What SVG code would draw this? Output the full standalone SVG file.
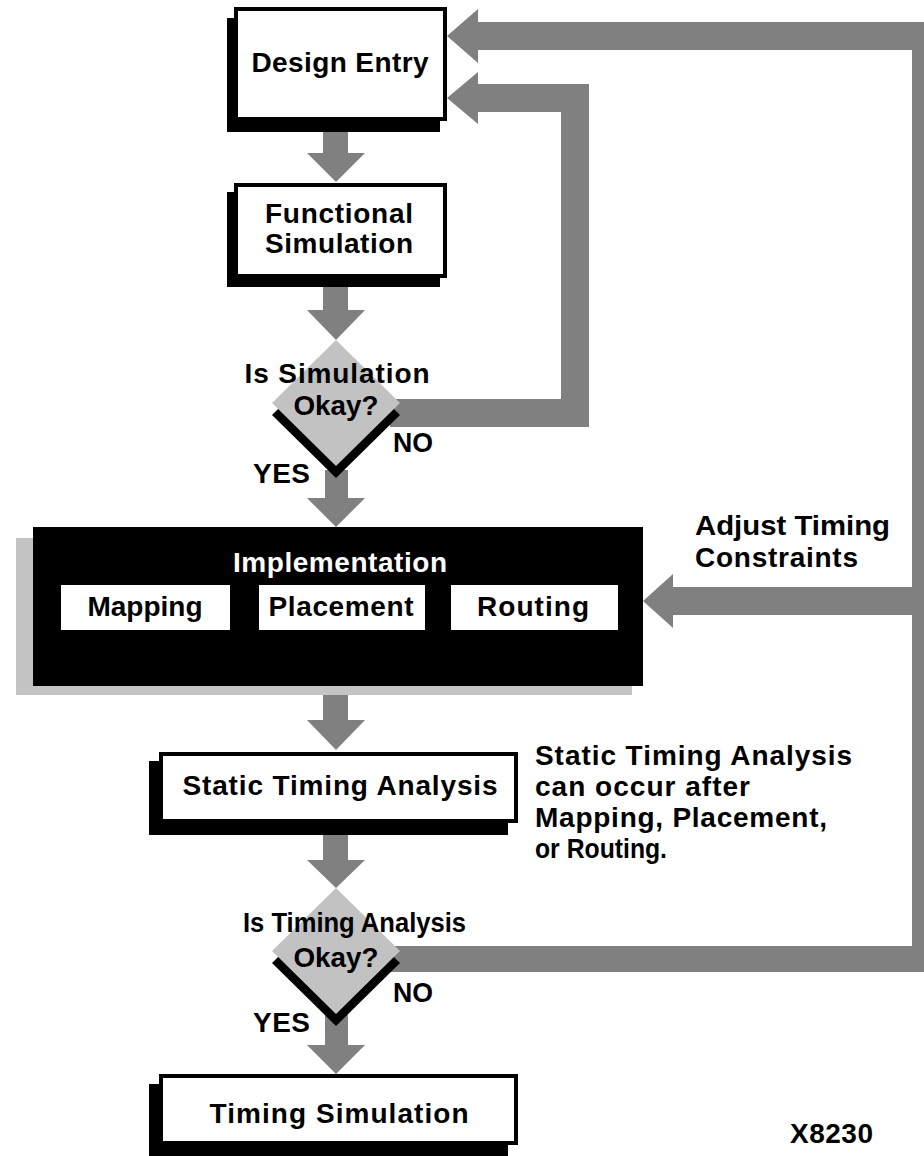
<svg xmlns="http://www.w3.org/2000/svg" width="924" height="1156" viewBox="0 0 924 1156">
<style>
.t{font-family:"Liberation Sans",Arial,sans-serif;font-size:28px;font-weight:bold;fill:#000;}
.w{fill:#fff;}
.box{fill:#fff;stroke:#000;stroke-width:4;}
.sh{fill:#000;}
.arr{fill:#808080;}
.dia{fill:#c2c2c2;}
</style>
<rect width="924" height="1156" fill="#fff"/>
<g id="connectors">
<path class="arr" d="M323,130 H348 V153 H365 L336,182 L307,153 H323 Z"/>
<path class="arr" d="M323,285 H348 V310 H365 L336,340 L307,310 H323 Z"/>
<path class="arr" d="M325,470 H348 V498 H365 L336,527 L307,498 H325 Z"/>
<path class="arr" d="M323,694 H348 V720 H365 L336,750 L307,720 H323 Z"/>
<path class="arr" d="M323,833 H348 V860 H365 L336,888 L307,860 H323 Z"/>
<path class="arr" d="M325,1015 H348 V1045 H365 L336,1074 L307,1045 H325 Z"/>
<path class="arr" d="M390,399 H561 V112 H478 V124 L447,98 L478,72 V84 H589 V427 H390 Z"/>
<path class="arr" d="M390,946 H912 V615 H673 V628 L643,601 L673,574 V587 H912 V50 H478 V63 L447,36 L478,9 V22 H940 V972 H390 Z"/>
</g>
<g id="design-entry">
<rect class="sh" x="227" y="18" width="213" height="114"/>
<rect class="box" x="236" y="9" width="209" height="110"/>
<text class="t" x="340" y="72" text-anchor="middle" textLength="177" lengthAdjust="spacing">Design Entry</text>
</g>
<g id="functional-simulation">
<rect class="sh" x="227" y="192" width="213" height="95"/>
<rect class="box" x="236" y="185" width="209" height="91"/>
<text class="t" x="339" y="223" text-anchor="middle" textLength="148" lengthAdjust="spacing">Functional</text>
<text class="t" x="339" y="253" text-anchor="middle" textLength="148" lengthAdjust="spacing">Simulation</text>
</g>
<g id="simulation-okay">
<polygon class="sh" points="336,352 400,415 336,478 272,415"/>
<polygon class="dia" points="336,340 400,403 336,466 272,403"/>
<text class="t" x="337" y="383" text-anchor="middle" textLength="185" lengthAdjust="spacing">Is Simulation</text>
<text class="t" x="336" y="415" text-anchor="middle" textLength="85" lengthAdjust="spacingAndGlyphs">Okay?</text>
<text class="t" x="393" y="452" textLength="40" lengthAdjust="spacingAndGlyphs">NO</text>
<text class="t" x="253" y="483" textLength="57" lengthAdjust="spacing">YES</text>
</g>
<g id="implementation">
<rect x="16" y="538" width="616" height="157" fill="#c4c4c4"/>
<rect x="33" y="527" width="610" height="159" fill="#000"/>
<text class="t w" x="340" y="572" text-anchor="middle" textLength="214" lengthAdjust="spacing">Implementation</text>
<rect x="61" y="585" width="169" height="45" fill="#fff"/>
<text class="t" x="145" y="616" text-anchor="middle" textLength="115" lengthAdjust="spacing">Mapping</text>
<rect x="259" y="585" width="166" height="45" fill="#fff"/>
<text class="t" x="341" y="616" text-anchor="middle" textLength="145" lengthAdjust="spacing">Placement</text>
<rect x="451" y="585" width="167" height="45" fill="#fff"/>
<text class="t" x="533" y="616" text-anchor="middle" textLength="112" lengthAdjust="spacing">Routing</text>
</g>
<g id="adjust-label">
<text class="t" x="695" y="535" textLength="195" lengthAdjust="spacingAndGlyphs">Adjust Timing</text>
<text class="t" x="695" y="567" textLength="163" lengthAdjust="spacing">Constraints</text>
</g>
<g id="static-timing-analysis">
<rect class="sh" x="149" y="761" width="359" height="74"/>
<rect class="box" x="161" y="754" width="355" height="67"/>
<text class="t" x="340" y="795" text-anchor="middle" textLength="315" lengthAdjust="spacing">Static Timing Analysis</text>
</g>
<g id="sta-note">
<text class="t" x="535" y="765" textLength="317" lengthAdjust="spacing">Static Timing Analysis</text>
<text class="t" x="535" y="796" textLength="215" lengthAdjust="spacing">can occur after</text>
<text class="t" x="535" y="827" textLength="292" lengthAdjust="spacing">Mapping, Placement,</text>
<text class="t" x="535" y="858" textLength="132" lengthAdjust="spacingAndGlyphs">or Routing.</text>
</g>
<g id="timing-okay">
<polygon class="sh" points="336,900 400,963 336,1026 272,963"/>
<polygon class="dia" points="336,888 400,951 336,1014 272,951"/>
<text class="t" x="243" y="932" textLength="223" lengthAdjust="spacingAndGlyphs">Is Timing Analysis</text>
<text class="t" x="336" y="967" text-anchor="middle" textLength="85" lengthAdjust="spacingAndGlyphs">Okay?</text>
<text class="t" x="393" y="1002" textLength="40" lengthAdjust="spacingAndGlyphs">NO</text>
<text class="t" x="253" y="1032" textLength="57" lengthAdjust="spacing">YES</text>
</g>
<g id="timing-simulation">
<rect class="sh" x="149" y="1084" width="359" height="80"/>
<rect class="box" x="161" y="1076" width="355" height="67"/>
<text class="t" x="339" y="1123" text-anchor="middle" textLength="259" lengthAdjust="spacing">Timing Simulation</text>
</g>
<g id="figure-id">
<text class="t" x="790" y="1143" textLength="83" lengthAdjust="spacing">X8230</text>
</g>
</svg>
